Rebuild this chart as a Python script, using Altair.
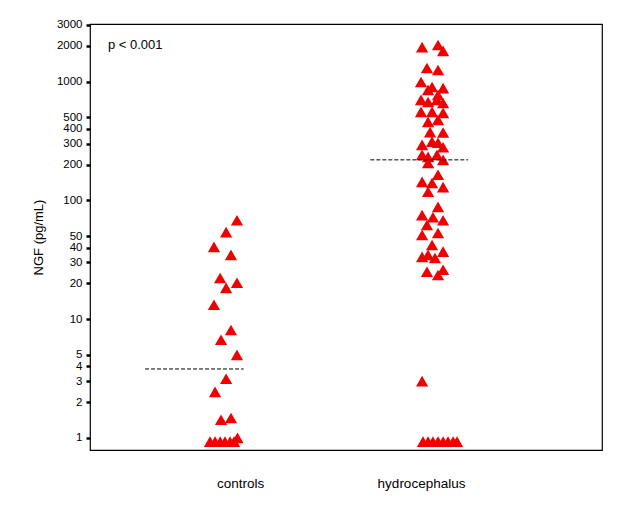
import altair as alt
import pandas as pd

# ---- data ----
groups = ["controls", "hydrocephalus"]
group_pos = [1, 2]

controls_ngf = [68, 54, 40.5, 34.7, 22.2, 20.2, 18.3, 13.2, 8.1, 6.7, 5.0, 3.14, 2.44,
                1.42, 1.47, 0.93, 0.93, 0.93, 0.93, 0.93, 0.93, 1.0]
controls_jitter = [-0.017, -0.077, -0.144, -0.05, -0.11, -0.017, -0.077, -0.144, -0.05,
                   -0.105, -0.017, -0.077, -0.138, -0.105, -0.05,
                   -0.166, -0.138, -0.11, -0.083, -0.055, -0.033, -0.014]

hydro_ngf = [1950, 2030, 1810,
             1300, 1250,
             990, 900, 880, 850,
             700, 673, 700, 660, 771,
             555, 555, 544, 457, 475,
             375, 372,
             293, 312, 305, 280,
             241, 232, 241, 219, 206,
             164, 143, 140, 129, 118,
             88, 75, 72, 68, 62,
             51, 53,
             42, 37, 33.4, 34.7, 32.7,
             25, 26, 23.5,
             3.0,
             0.93, 0.93, 0.93, 0.93, 0.93, 0.93, 0.93, 0.93]
hydro_jitter = [0.006, 0.094, 0.122,
                0.033, 0.094,
                0.0, 0.061, 0.122, 0.039,
                0.0, 0.039, 0.088, 0.122, 0.094,
                0.0, 0.061, 0.122, 0.039, 0.094,
                0.05, 0.122,
                0.006, 0.061, 0.094, 0.122,
                0.006, 0.039, 0.088, 0.122, 0.039,
                0.094, 0.006, 0.061, 0.122, 0.039,
                0.094, 0.006, 0.066, 0.122, 0.033,
                0.006, 0.094,
                0.061, 0.122, 0.006, 0.039, 0.077,
                0.033, 0.122, 0.094,
                0.006,
                0.011, 0.039, 0.066, 0.094, 0.122, 0.149, 0.177, 0.199]

medians = [3.8, 219]
median_x_start = [0.475, 1.72]
median_x_end = [1.02, 2.26]

y_ticks = [1, 2, 3, 4, 5, 10, 20, 30, 40, 50, 100, 200, 300, 400, 500, 1000, 2000, 3000]
annotation = "p < 0.001"

# ---- tables ----
rows = []
for v, j in zip(controls_ngf, controls_jitter):
    rows.append({"group": groups[0], "x": group_pos[0] + j, "ngf": v})
for v, j in zip(hydro_ngf, hydro_jitter):
    rows.append({"group": groups[1], "x": group_pos[1] + j, "ngf": v})
points_df = pd.DataFrame(rows)

med_df = pd.DataFrame({"group": groups, "median": medians,
                       "x1": median_x_start, "x2": median_x_end})
ann_df = pd.DataFrame({"x": [0.27], "y": [2030], "label": [annotation]})

FONT = "Liberation Sans"

x_scale = alt.Scale(domain=[0.171, 3.0], nice=False, zero=False)
y_scale = alt.Scale(type="log", domain=[0.79, 3050], nice=False)

x_axis = alt.Axis(values=group_pos, title=None, ticks=False, domain=False, grid=False,
                  labelExpr="datum.value == 1 ? 'controls' : 'hydrocephalus'",
                  labelFontSize=13.5, labelFont=FONT, labelColor="black", labelPadding=26)
y_axis = alt.Axis(values=y_ticks, format="d", title="NGF (pg/mL)", grid=False, domain=False,
                  tickSize=4, tickWidth=2.5, tickColor="black",
                  labelFontSize=11.5, labelFont=FONT, labelColor="black", labelPadding=4,
                  titleFontSize=13, titleFont=FONT, titleFontWeight="normal",
                  titleColor="black", titlePadding=11, labelFlush=False, labelOverlap=False)

pts = alt.Chart(points_df).mark_point(shape="triangle-up", filled=True, size=150,
                                      color="#f00000", opacity=1).encode(
    x=alt.X("x:Q", scale=x_scale, axis=x_axis),
    y=alt.Y("ngf:Q", scale=y_scale, axis=y_axis),
)

rules = alt.Chart(med_df).mark_rule(color="black", strokeWidth=1, strokeDash=[4, 2]).encode(
    x=alt.X("x1:Q", scale=x_scale),
    x2="x2:Q",
    y=alt.Y("median:Q", scale=y_scale),
)

ann = alt.Chart(ann_df).mark_text(align="left", baseline="middle", fontSize=13,
                                  font=FONT, color="black").encode(
    x=alt.X("x:Q", scale=x_scale),
    y=alt.Y("y:Q", scale=y_scale),
    text="label:N",
)

chart = (pts + rules + ann).properties(
    width=512, height=426,
    autosize=alt.AutoSizeParams(type="none"),
    padding={"left": 82, "top": 16, "right": 22, "bottom": 55},
    background="white",
).configure_view(stroke="black", strokeWidth=1.2)

chart.save("out.html", embed_options={"renderer": "svg", "actions": False})
